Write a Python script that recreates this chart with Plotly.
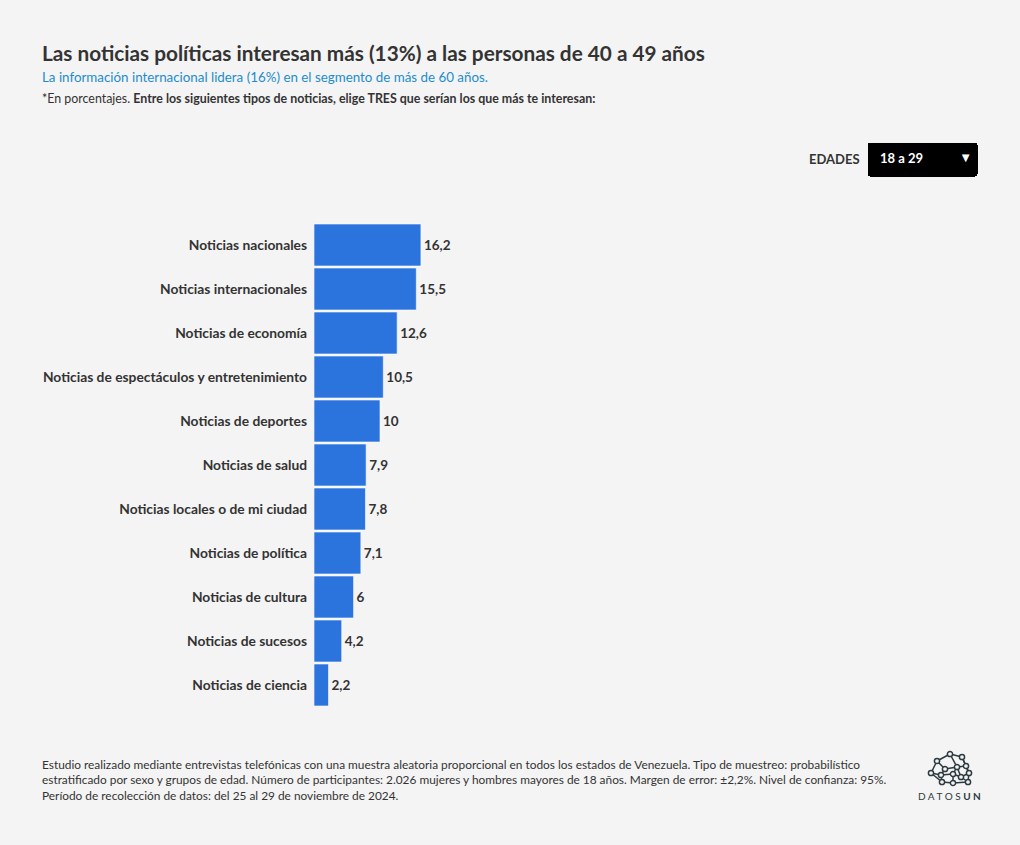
import plotly.graph_objects as go

categories = [
    "Noticias nacionales",
    "Noticias internacionales",
    "Noticias de economía",
    "Noticias de espectáculos y entretenimiento",
    "Noticias de deportes",
    "Noticias de salud",
    "Noticias locales o de mi ciudad",
    "Noticias de política",
    "Noticias de cultura",
    "Noticias de sucesos",
    "Noticias de ciencia",
]
values_18_29 = [16.2, 15.5, 12.6, 10.5, 10, 7.9, 7.8, 7.1, 6, 4.2, 2.2]
age_groups = ["18 a 29"]

title = "Las noticias políticas interesan más (13%) a las personas de 40 a 49 años"
subtitle = "La información internacional lidera (16%) en el segmento de más de 60 años."
note = "*En porcentajes. <b>Entre los siguientes tipos de noticias, elige TRES que serían los que más te interesan:</b>"
footer = ("Estudio realizado mediante entrevistas telefónicas con una muestra aleatoria proporcional en todos los estados de Venezuela. Tipo de muestreo: probabilístico<br>"
          "estratificado por sexo y grupos de edad. Número de participantes: 2.026 mujeres y hombres mayores de 18 años. Margen de error: ±2,2%. Nivel de confianza: 95%.<br>"
          "Período de recolección de datos: del 25 al 29 de noviembre de 2024.")

FONT = "Source Sans Pro, Lato, Roboto, sans-serif"
BG = "#f4f4f4"
DARK = "#333333"
BAR = "#2b74de"

W, H = 1020, 845
L, R, T, B = 314, 42, 223, 138
PW, PH = W - L - R, H - T - B


def fx(px):
    return (px - L) / PW


def fy(py):
    return (H - B - py) / PH


def fmt(v):
    s = ("%g" % v).replace(".", ",")
    return s


fig = go.Figure()
fig.add_trace(go.Bar(
    y=categories,
    x=values_18_29,
    orientation="h",
    marker=dict(color=BAR, line=dict(color="#ffffff", width=0.6)),
    width=0.955,
    text=[fmt(v) for v in values_18_29],
    textposition="outside",
    cliponaxis=False,
    textfont=dict(family=FONT, size=13.5, color=DARK, weight="bold"),
    hovertemplate="%{y}: %{x}<extra></extra>",
))

annotations = [
    dict(text="<b>" + title + "</b>", x=fx(40), y=fy(53), xref="paper", yref="paper",
         xanchor="left", yanchor="middle", showarrow=False,
         font=dict(family=FONT, size=20.75, color=DARK)),
    dict(text=subtitle, x=fx(40), y=fy(77), xref="paper", yref="paper",
         xanchor="left", yanchor="middle", showarrow=False,
         font=dict(family=FONT, size=13.35, color="#1e8ccc")),
    dict(text=note, x=fx(40), y=fy(99), xref="paper", yref="paper",
         xanchor="left", yanchor="middle", showarrow=False,
         font=dict(family=FONT, size=12.4, color=DARK)),
    dict(text="<b>EDADES</b>", x=fx(862), y=fy(159), xref="paper", yref="paper",
         xanchor="right", yanchor="middle", showarrow=False,
         font=dict(family=FONT, size=13, color=DARK)),
    dict(text=footer, x=fx(40), y=fy(780), xref="paper", yref="paper",
         xanchor="left", yanchor="middle", align="left", showarrow=False,
         font=dict(family=FONT, size=11.86, color=DARK)),
    dict(text="D A T O S <b>U N</b>", x=fx(949), y=fy(796), xref="paper", yref="paper",
         xanchor="center", yanchor="middle", showarrow=False,
         font=dict(family=FONT, size=10, color="#2d3b40")),
]

# logo network (decorative)
nodes = {
    "A": (950, 754), "B": (962, 757), "C": (937, 761), "D": (945, 769), "E": (957, 767),
    "F": (966, 766), "G": (931, 773), "H": (941, 775), "I": (953, 774), "J": (961, 777),
    "K": (969, 773), "L": (942, 782), "M": (953, 783), "N": (968, 782),
}
edges = ["AB", "AC", "AE", "BF", "BK", "CD", "CG", "DH", "DE", "EI", "EJ", "FK", "GH",
         "GL", "HI", "IJ", "JK", "IM", "LM", "MN", "JN", "KN", "HL", "EF"]
shapes = []
for e in edges:
    (x0, y0), (x1, y1) = nodes[e[0]], nodes[e[1]]
    shapes.append(dict(type="line", xref="paper", yref="paper",
                       x0=fx(x0), y0=fy(y0), x1=fx(x1), y1=fy(y1),
                       line=dict(color="#2d3b40", width=1.5)))
for (x, y) in nodes.values():
    r = 2.6
    shapes.append(dict(type="circle", xref="paper", yref="paper",
                       x0=fx(x - r), x1=fx(x + r), y0=fy(y + r), y1=fy(y - r),
                       fillcolor=BG, line=dict(color="#2d3b40", width=1.5)))

fig.update_layout(
    width=W, height=H,
    margin=dict(l=L, r=R, t=T, b=B, autoexpand=False),
    paper_bgcolor=BG, plot_bgcolor=BG,
    showlegend=False,
    bargap=0.045,
    xaxis=dict(range=[0, 100.6], visible=False, fixedrange=True),
    yaxis=dict(autorange="reversed", showgrid=False, zeroline=False, showline=False,
               ticks="", ticklabelstandoff=6, automargin=False, fixedrange=True,
               tickfont=dict(family=FONT, size=13.8, color=DARK, weight="bold")),
    annotations=annotations,
    shapes=shapes,
    updatemenus=[dict(
        type="dropdown",
        buttons=[dict(label=a + "\u00a0" * 8, method="restyle",
                      args=[{"x": [values_18_29]}]) for a in age_groups],
        active=0,
        x=fx(867), y=fy(142), xanchor="left", yanchor="top",
        bgcolor="#000000", bordercolor="#000000", borderwidth=1,
        font=dict(family=FONT, size=13, color="#ffffff", weight="bold"),
        pad=dict(t=0, b=0, l=0, r=0),
        showactive=True,
    )],
)

fig.write_html("out.html")
